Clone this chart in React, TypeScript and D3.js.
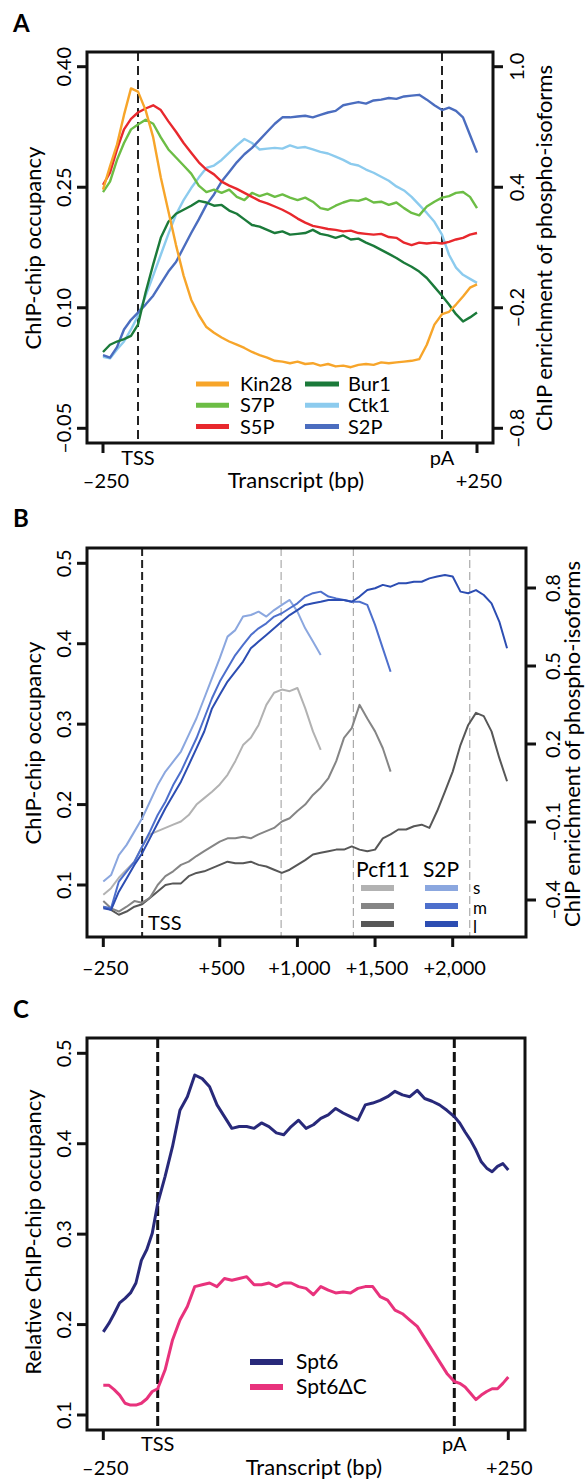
import React from "react";
import * as d3 from "d3";

const FONT = "Lato, 'Open Sans', sans-serif";

// ---------- Panel A (metagene: -250 bp, gene body in ‰ of length, +250 bp past pA) ----------
const posA = [...d3.range(-250, 0, 50), ...d3.range(0, 1001, 25), ...d3.range(1050, 1251, 50)];

// kinases, left axis (ChIP-chip occupancy)
const kin28 = [0.247, 0.276, 0.303, 0.340, 0.373,
  0.369, 0.346, 0.312, 0.262, 0.220, 0.178, 0.140, 0.110, 0.091, 0.076, 0.069, 0.063, 0.058, 0.054, 0.050, 0.045,
  0.041, 0.038, 0.034, 0.033, 0.031, 0.033, 0.030, 0.031, 0.028, 0.030, 0.027, 0.028, 0.026, 0.029, 0.030, 0.029,
  0.032, 0.031, 0.032, 0.033, 0.034, 0.036, 0.054, 0.079, 0.092,
  0.095, 0.104, 0.114, 0.125, 0.129];
const bur1 = [0.045, 0.054, 0.058, 0.061, 0.065,
  0.079, 0.119, 0.154, 0.187, 0.207, 0.217, 0.222, 0.227, 0.233, 0.231, 0.227, 0.228, 0.221, 0.217, 0.210, 0.203,
  0.201, 0.197, 0.193, 0.195, 0.191, 0.192, 0.193, 0.197, 0.192, 0.190, 0.187, 0.190, 0.185, 0.186, 0.181, 0.177,
  0.172, 0.167, 0.162, 0.156, 0.151, 0.145, 0.137, 0.126, 0.115,
  0.104, 0.092, 0.083, 0.088, 0.094];
const ctk1 = [0.039, 0.037, 0.048, 0.058, 0.073,
  0.090, 0.115, 0.140, 0.166, 0.192, 0.216, 0.234, 0.249, 0.262, 0.274, 0.277, 0.284, 0.293, 0.302, 0.310, 0.305,
  0.297, 0.298, 0.299, 0.298, 0.302, 0.299, 0.300, 0.297, 0.294, 0.292, 0.288, 0.284, 0.279, 0.277, 0.272, 0.268,
  0.263, 0.258, 0.251, 0.246, 0.238, 0.228, 0.218, 0.207, 0.191,
  0.166, 0.150, 0.141, 0.136, 0.131];
// phospho-isoforms, right axis (ChIP enrichment)
const s7p = [0.376, 0.428, 0.536, 0.620, 0.688,
  0.712, 0.736, 0.716, 0.648, 0.588, 0.548, 0.508, 0.468, 0.408, 0.376, 0.388, 0.372, 0.388, 0.352, 0.336, 0.372,
  0.356, 0.368, 0.352, 0.364, 0.348, 0.336, 0.348, 0.328, 0.296, 0.288, 0.308, 0.324, 0.336, 0.332, 0.344, 0.324,
  0.328, 0.312, 0.324, 0.296, 0.272, 0.260, 0.304, 0.328, 0.348,
  0.356, 0.372, 0.376, 0.352, 0.296];
const s5p = [0.412, 0.472, 0.588, 0.688, 0.740,
  0.772, 0.792, 0.808, 0.784, 0.728, 0.676, 0.620, 0.572, 0.524, 0.488, 0.464, 0.428, 0.408, 0.392, 0.372, 0.352,
  0.332, 0.320, 0.304, 0.288, 0.268, 0.244, 0.224, 0.208, 0.200, 0.192, 0.188, 0.180, 0.184, 0.172, 0.168, 0.164,
  0.168, 0.152, 0.148, 0.124, 0.112, 0.124, 0.120, 0.124, 0.120,
  0.128, 0.140, 0.148, 0.164, 0.172];
const s2pA = [-0.436, -0.448, -0.396, -0.308, -0.260,
  -0.224, -0.184, -0.140, -0.080, -0.020, 0.028, 0.100, 0.172, 0.240, 0.312, 0.364, 0.428, 0.476, 0.524, 0.564, 0.596,
  0.636, 0.676, 0.716, 0.748, 0.748, 0.752, 0.756, 0.748, 0.760, 0.772, 0.780, 0.808, 0.816, 0.824, 0.816, 0.832,
  0.836, 0.844, 0.840, 0.852, 0.856, 0.860, 0.836, 0.808, 0.784,
  0.796, 0.780, 0.748, 0.660, 0.572];

const ticksAL = [-0.05, 0.10, 0.25, 0.40];
const labelsAL = ["\u20130.05", "0.10", "0.25", "0.40"];
const ticksAR = [-0.8, -0.2, 0.4, 1.0];
const labelsAR = ["\u20130.8", "\u20130.2", "0.4", "1.0"];

// ---------- Panel B (bp from TSS; short / medium / long genes) ----------
const posBs = d3.range(-250, 1151, 50);
const posBm = d3.range(-250, 1601, 50);
const posBl = d3.range(-250, 2351, 50);
const pAsitesB = [895, 1360, 2110];

const pcf11S = [0.088, 0.096, 0.109, 0.119, 0.129, 0.148, 0.163, 0.167, 0.171, 0.175, 0.179, 0.187, 0.200, 0.208,
  0.216, 0.225, 0.237, 0.254, 0.274, 0.283, 0.299, 0.324, 0.339, 0.343, 0.341, 0.345, 0.320, 0.291, 0.268];
const pcf11M = [0.080, 0.071, 0.067, 0.073, 0.080, 0.078, 0.084, 0.100, 0.111, 0.117, 0.125, 0.129, 0.136, 0.142,
  0.148, 0.154, 0.158, 0.158, 0.160, 0.158, 0.163, 0.167, 0.171, 0.179, 0.183, 0.192, 0.200, 0.212, 0.221, 0.233,
  0.254, 0.283, 0.295, 0.324, 0.307, 0.291, 0.270, 0.241];
const pcf11L = [0.073, 0.069, 0.063, 0.067, 0.073, 0.076, 0.084, 0.092, 0.100, 0.102, 0.102, 0.111, 0.115, 0.117,
  0.121, 0.125, 0.129, 0.127, 0.127, 0.129, 0.125, 0.123, 0.119, 0.115, 0.119, 0.125, 0.131, 0.138, 0.140, 0.142,
  0.144, 0.144, 0.148, 0.144, 0.142, 0.144, 0.158, 0.163, 0.169, 0.169, 0.173, 0.175, 0.171, 0.192, 0.216, 0.241,
  0.274, 0.299, 0.314, 0.310, 0.291, 0.258, 0.229];
const s2pS = [-0.329, -0.304, -0.227, -0.188, -0.137, -0.086, -0.022, 0.042, 0.094, 0.132, 0.171, 0.235, 0.299, 0.376,
  0.453, 0.530, 0.613, 0.638, 0.690, 0.696, 0.709, 0.690, 0.715, 0.735, 0.754, 0.709, 0.645, 0.594, 0.542];
const s2pM = [-0.426, -0.432, -0.329, -0.291, -0.253, -0.195, -0.137, -0.073, -0.022, 0.042, 0.094, 0.158, 0.222,
  0.299, 0.376, 0.440, 0.491, 0.542, 0.581, 0.619, 0.645, 0.664, 0.690, 0.703, 0.722, 0.741, 0.767, 0.780, 0.786,
  0.767, 0.760, 0.754, 0.747, 0.747, 0.735, 0.658, 0.568, 0.478];
const s2pL = [-0.432, -0.438, -0.368, -0.317, -0.265, -0.220, -0.163, -0.105, -0.047, 0.004, 0.055, 0.119, 0.183,
  0.248, 0.337, 0.389, 0.440, 0.478, 0.517, 0.568, 0.594, 0.619, 0.645, 0.671, 0.696, 0.715, 0.735, 0.741, 0.747,
  0.754, 0.754, 0.754, 0.747, 0.767, 0.792, 0.799, 0.812, 0.805, 0.818, 0.818, 0.824, 0.824, 0.837, 0.844, 0.850,
  0.844, 0.786, 0.780, 0.792, 0.773, 0.741, 0.671, 0.568];

const ticksBX = [-250, 500, 1000, 1500, 2000];
const labelsBX = ["\u2013250", "+500", "+1,000", "+1,500", "+2,000"];
const ticksBL = [0.1, 0.2, 0.3, 0.4, 0.5];
const ticksBR = [-0.4, -0.1, 0.2, 0.5, 0.8];
const labelsBR = ["\u20130.4", "\u20130.1", "0.2", "0.5", "0.8"];

// ---------- Panel C ----------
const posC = [...d3.range(-250, 0, 25), ...d3.range(0, 1001, 25), ...d3.range(1025, 1251, 25)];
const spt6 = [0.192, 0.201, 0.212, 0.224, 0.229, 0.235, 0.246, 0.271, 0.283, 0.301,
  0.334, 0.364, 0.397, 0.437, 0.452, 0.476, 0.472, 0.463, 0.443, 0.430,
  0.417, 0.419, 0.419, 0.417, 0.423, 0.419, 0.412, 0.410, 0.419, 0.426,
  0.417, 0.421, 0.428, 0.432, 0.439, 0.434, 0.430, 0.426, 0.443, 0.445,
  0.448, 0.452, 0.458, 0.454, 0.452, 0.459, 0.450, 0.447, 0.443, 0.437, 0.430,
  0.423, 0.413, 0.404, 0.393, 0.380, 0.373, 0.369, 0.375, 0.378, 0.371];
const spt6dC = [0.133, 0.133, 0.128, 0.122, 0.113, 0.111, 0.111, 0.113, 0.118, 0.126,
  0.129, 0.150, 0.183, 0.205, 0.220, 0.242, 0.244, 0.246, 0.242, 0.251,
  0.249, 0.251, 0.253, 0.244, 0.244, 0.246, 0.242, 0.246, 0.246, 0.242,
  0.240, 0.233, 0.242, 0.238, 0.235, 0.236, 0.235, 0.240, 0.242, 0.242,
  0.231, 0.227, 0.216, 0.212, 0.205, 0.198, 0.185, 0.172, 0.159, 0.146, 0.137,
  0.135, 0.131, 0.124, 0.117, 0.122, 0.126, 0.129, 0.129, 0.135, 0.142];
const ticksC = [0.1, 0.2, 0.3, 0.4, 0.5];

// ---------- layout ----------
const boxA = { l: 87, r: 493, t: 52, b: 443 };
const boxB = { l: 87, r: 526, t: 548, b: 937 };
const boxC = { l: 87, r: 525, t: 1038, b: 1430 };

const xA = d3.scaleLinear().domain([-250, 0, 1000, 1250]).range([103, 138, 442, 477]);
const yAL = d3.scaleLinear().domain([-0.05, 0.40]).range([428.3, 66.7]);
const yAR = d3.scaleLinear().domain([-0.8, 1.0]).range([428.3, 66.7]);
const xB = d3.scaleLinear().domain([-250, 2000]).range([103.3, 452.7]);
const yBL = d3.scaleLinear().domain([0.1, 0.5]).range([885, 563.3]);
const yBR = d3.scaleLinear().domain([-0.4, 0.8]).range([900, 588]);
const xC = d3.scaleLinear().domain([-250, 0, 1000, 1250]).range([103.3, 157.7, 454.3, 508.3]);
const yC = d3.scaleLinear().domain([0.1, 0.5]).range([1415, 1053.3]);

const path = (xs: number[], ys: number[], sx: any, sy: any) =>
  d3.line<number>().x((_, i) => sx(xs[i])).y((d) => sy(d))(ys) || "";

const VText = ({ x, y, size, children }: any) => (
  <text x={x} y={y} transform={`rotate(-90 ${x} ${y})`} textAnchor="middle" fontSize={size} fontFamily={FONT}>
    {children}
  </text>
);

const Box = ({ b }: any) => (
  <rect x={b.l} y={b.t} width={b.r - b.l} height={b.b - b.t} fill="none" stroke="#111" strokeWidth={3} />
);

const Series = ({ d, color, w = 2.4 }: any) => (
  <path d={d} fill="none" stroke={color} strokeWidth={w} strokeLinejoin="round" />
);

const LeftTicks = ({ b, scale, ticks, labels, fmt }: any) => (
  <g>
    {ticks.map((t: number, i: number) => (
      <g key={i}>
        <line x1={b.l - 10} x2={b.l} y1={scale(t)} y2={scale(t)} stroke="#111" strokeWidth={3} />
        <VText x={71} y={scale(t)} size={20}>{labels ? labels[i] : fmt(t)}</VText>
      </g>
    ))}
  </g>
);

const RightTicks = ({ b, scale, ticks, labels, lx }: any) => (
  <g>
    {ticks.map((t: number, i: number) => (
      <g key={i}>
        <line x1={b.r} x2={b.r + 10} y1={scale(t)} y2={scale(t)} stroke="#111" strokeWidth={3} />
        <VText x={lx} y={scale(t)} size={20}>{labels[i]}</VText>
      </g>
    ))}
  </g>
);

const Legend = ({ items, x, y, dy, sw, tx, size = 20, w = 5 }: any) => (
  <g>
    {items.map((it: any, i: number) => (
      <g key={it.name}>
        <line x1={x} x2={x + sw} y1={y + i * dy} y2={y + i * dy} stroke={it.color} strokeWidth={w} />
        <text x={x + tx} y={y + i * dy + 7} fontSize={size} fontFamily={FONT}>{it.name}</text>
      </g>
    ))}
  </g>
);

const C = {
  kin28: "#f7a52a", s7p: "#6cbd45", s5p: "#e8282d", bur1: "#1b7a3a", ctk1: "#8ccbee", s2p: "#4b6dbf",
  pS: "#b2b2b2", pM: "#858585", pL: "#575757", bS: "#8ba7df", bM: "#4d6fcc", bL: "#2c4db2",
  spt6: "#28297a", spt6dC: "#e8327c",
};

export default function App() {
  return (
    <svg width={587} height={1482} style={{ position: "absolute", left: 0, top: 0, background: "#fff" }}>
      {/* ================= A ================= */}
      <text x={13} y={32} fontSize={24} fontWeight="bold" fontFamily={FONT}>A</text>
      {[0, 1000].map((p) => (
        <line key={p} x1={xA(p)} x2={xA(p)} y1={boxA.t} y2={boxA.b} stroke="#222" strokeWidth={2} strokeDasharray="9,5" />
      ))}
      <Series d={path(posA, ctk1, xA, yAL)} color={C.ctk1} />
      <Series d={path(posA, s2pA, xA, yAR)} color={C.s2p} />
      <Series d={path(posA, bur1, xA, yAL)} color={C.bur1} />
      <Series d={path(posA, s7p, xA, yAR)} color={C.s7p} />
      <Series d={path(posA, s5p, xA, yAR)} color={C.s5p} />
      <Series d={path(posA, kin28, xA, yAL)} color={C.kin28} />
      <Box b={boxA} />
      <LeftTicks b={boxA} scale={yAL} ticks={ticksAL} labels={labelsAL} />
      <RightTicks b={boxA} scale={yAR} ticks={ticksAR} labels={labelsAR} lx={524} />
      {[-250, 1250].map((p) => (
        <line key={p} x1={xA(p)} x2={xA(p)} y1={boxA.b} y2={boxA.b + 10} stroke="#111" strokeWidth={3} />
      ))}
      <text x={xA(0)} y={465} textAnchor="middle" fontSize={20} fontFamily={FONT}>TSS</text>
      <text x={xA(1000)} y={465} textAnchor="middle" fontSize={20} fontFamily={FONT}>pA</text>
      <text x={xA(-250) + 3} y={488} textAnchor="middle" fontSize={20} fontFamily={FONT}>{"\u2013250"}</text>
      <text x={xA(1250) + 2} y={488} textAnchor="middle" fontSize={20} fontFamily={FONT}>+250</text>
      <text x={296} y={488} textAnchor="middle" fontSize={22} fontFamily={FONT}>Transcript (bp)</text>
      <VText x={41} y={248} size={22}>ChIP-chip occupancy</VText>
      <VText x={552} y={248} size={22}>ChIP enrichment of phospho-isoforms</VText>
      <Legend x={196} y={384} dy={21.3} sw={33} tx={44}
        items={[{ name: "Kin28", color: C.kin28 }, { name: "S7P", color: C.s7p }, { name: "S5P", color: C.s5p }]} />
      <Legend x={305} y={384} dy={21.3} sw={34} tx={43}
        items={[{ name: "Bur1", color: C.bur1 }, { name: "Ctk1", color: C.ctk1 }, { name: "S2P", color: C.s2p }]} />

      {/* ================= B ================= */}
      <text x={13} y={527} fontSize={24} fontWeight="bold" fontFamily={FONT}>B</text>
      <line x1={xB(0)} x2={xB(0)} y1={boxB.t} y2={boxB.b} stroke="#222" strokeWidth={2} strokeDasharray="8,4" />
      {pAsitesB.map((p) => (
        <line key={p} x1={xB(p)} x2={xB(p)} y1={boxB.t} y2={boxB.b} stroke="#999" strokeWidth={1} strokeDasharray="8,4" />
      ))}
      <Series d={path(posBl, pcf11L, xB, yBL)} color={C.pL} w={2} />
      <Series d={path(posBm, pcf11M, xB, yBL)} color={C.pM} w={2} />
      <Series d={path(posBs, pcf11S, xB, yBL)} color={C.pS} w={2} />
      <Series d={path(posBs, s2pS, xB, yBR)} color={C.bS} w={2} />
      <Series d={path(posBm, s2pM, xB, yBR)} color={C.bM} w={2} />
      <Series d={path(posBl, s2pL, xB, yBR)} color={C.bL} w={2} />
      <Box b={boxB} />
      <LeftTicks b={boxB} scale={yBL} ticks={ticksBL} fmt={d3.format(".1f")} />
      <RightTicks b={boxB} scale={yBR} ticks={ticksBR} labels={labelsBR} lx={560} />
      {ticksBX.map((t, i) => (
        <g key={t}>
          <line x1={xB(t)} x2={xB(t)} y1={boxB.b} y2={boxB.b + 10} stroke="#111" strokeWidth={3} />
          <text x={xB(t) + 2} y={975} textAnchor="middle" fontSize={20} fontFamily={FONT}>{labelsBX[i]}</text>
        </g>
      ))}
      <text x={xB(0) + 6} y={930} fontSize={20} fontFamily={FONT}>TSS</text>
      <VText x={41} y={743} size={22}>ChIP-chip occupancy</VText>
      <VText x={580} y={744} size={22}>ChIP enrichment of phospho-isoforms</VText>
      <text x={383} y={877} textAnchor="middle" fontSize={21} fontFamily={FONT}>Pcf11</text>
      <text x={441} y={877} textAnchor="middle" fontSize={21} fontFamily={FONT}>S2P</text>
      {[C.pS, C.pM, C.pL].map((c, i) => (
        <line key={c} x1={361} x2={394} y1={888 + i * 18} y2={888 + i * 18} stroke={c} strokeWidth={6} />
      ))}
      {[C.bS, C.bM, C.bL].map((c, i) => (
        <line key={c} x1={425} x2={458} y1={888 + i * 18} y2={888 + i * 18} stroke={c} strokeWidth={6} />
      ))}
      {["s", "m", "l"].map((s, i) => (
        <text key={s} x={473} y={894 + i * 19.5} fontSize={17} fontFamily={FONT}>{s}</text>
      ))}

      {/* ================= C ================= */}
      <text x={13} y={1018} fontSize={24} fontWeight="bold" fontFamily={FONT}>C</text>
      {[0, 1000].map((p) => (
        <line key={p} x1={xC(p)} x2={xC(p)} y1={boxC.t} y2={boxC.b} stroke="#111" strokeWidth={3} strokeDasharray="10,4" />
      ))}
      <Series d={path(posC, spt6dC, xC, yC)} color={C.spt6dC} w={3} />
      <Series d={path(posC, spt6, xC, yC)} color={C.spt6} w={3} />
      <Box b={boxC} />
      <LeftTicks b={boxC} scale={yC} ticks={ticksC} fmt={d3.format(".1f")} />
      {[-250, 1250].map((p) => (
        <line key={p} x1={xC(p)} x2={xC(p)} y1={boxC.b} y2={boxC.b + 10} stroke="#111" strokeWidth={3} />
      ))}
      <text x={xC(0)} y={1451} textAnchor="middle" fontSize={20} fontFamily={FONT}>TSS</text>
      <text x={xC(1000)} y={1451} textAnchor="middle" fontSize={20} fontFamily={FONT}>pA</text>
      <text x={xC(-250) + 2} y={1475} textAnchor="middle" fontSize={20} fontFamily={FONT}>{"\u2013250"}</text>
      <text x={xC(1250) + 1} y={1475} textAnchor="middle" fontSize={20} fontFamily={FONT}>+250</text>
      <text x={314} y={1475} textAnchor="middle" fontSize={22} fontFamily={FONT}>Transcript (bp)</text>
      <VText x={41} y={1232} size={22}>Relative ChIP-chip occupancy</VText>
      <Legend x={250} y={1362} dy={25} sw={33} tx={46} w={6} size={21}
        items={[{ name: "Spt6", color: C.spt6 }, { name: "Spt6\u0394C", color: C.spt6dC }]} />
    </svg>
  );
}
